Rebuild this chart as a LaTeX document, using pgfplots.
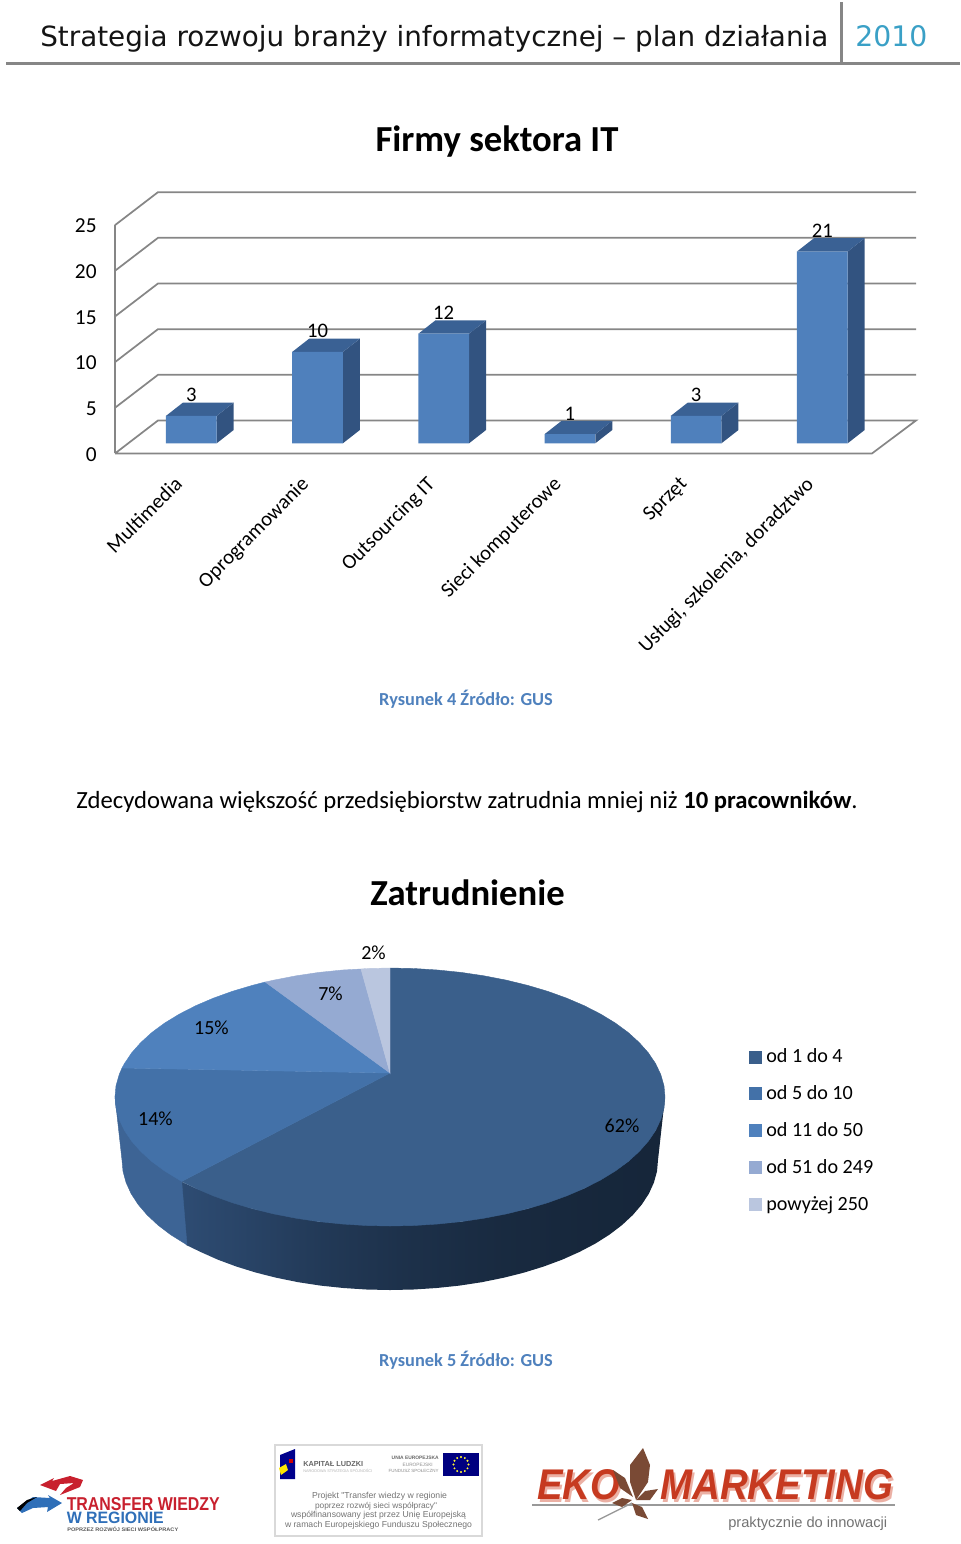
\documentclass[border=0pt]{standalone}
\usepackage{fontspec}
\usepackage{graphicx}
\usepackage{pgfplots}
\usepackage{pgfplotstable}
\pgfplotsset{compat=1.18}
\setmainfont{Carlito}
\newfontfamily\hdr{DejaVu Sans}
\newfontfamily\lib{Liberation Sans}

\newlength\px
\setlength\px{0.75pt}
% text forced to a width read from the page, in pixels
\newcommand\W[2]{\resizebox{#1\px}{!}{#2}}
\newcommand\WH[3]{\resizebox{#1\px}{#2\px}{#3}}

\definecolor{frontc}{HTML}{4F80BC}
\definecolor{topc}{HTML}{3A6194}
\definecolor{sidec}{HTML}{325380}
\definecolor{wallc}{HTML}{868686}
\definecolor{capc}{HTML}{4F81BD}
\definecolor{pa}{HTML}{3A5F8B}
\definecolor{pb}{HTML}{4371A8}
\definecolor{pc}{HTML}{4F81BD}
\definecolor{pd}{HTML}{95AAD2}
\definecolor{pe}{HTML}{BAC6DF}
\definecolor{sidedark}{HTML}{16263A}
\definecolor{sidelight}{HTML}{2F4E76}
\definecolor{sideb}{HTML}{3D6495}
\definecolor{ekored}{HTML}{C63A20}
\definecolor{ekopink}{HTML}{EBB0A4}
\definecolor{leaf}{HTML}{7A4A35}
\definecolor{yearc}{HTML}{3AA0C6}
\definecolor{twred}{HTML}{C8202E}
\definecolor{twblue}{HTML}{2F6FB8}

% wall of the big slice: the box of the path runs from 25bp to 75bp
\pgfdeclarehorizontalshading{sidesh}{100bp}{color(0bp)=(sidelight);
  color(25bp)=(sidelight!95!sidedark); color(33bp)=(sidelight!70!sidedark);
  color(40bp)=(sidelight!47!sidedark); color(48bp)=(sidelight!27!sidedark);
  color(58bp)=(sidelight!10!sidedark); color(68bp)=(sidelight!2!sidedark);
  color(75bp)=(sidedark); color(100bp)=(sidedark)}

\pgfplotstableread{
x v
0 3
1 10
2 12
3 1
4 3
5 21
}\firmy

% side and top face of one 3D bar: column, value
\newcommand\Depth[2]{%
  \pgfmathsetmacro\xa{#1-0.2009}\pgfmathsetmacro\xb{#1+0.2009}%
  \pgfmathsetmacro\xc{#1+0.3356}\pgfmathsetmacro\xd{#1-0.0662}%
  \pgfmathsetmacro\yb{#2+1.457}%
  \addplot[fill=sidec,draw=none] coordinates {(\xb,0)(\xc,1.457)(\xc,\yb)(\xb,#2)} -- cycle;
  \addplot[fill=topc,draw=none] coordinates {(\xa,#2)(\xb,#2)(\xc,\yb)(\xd,\yb)} -- cycle;
}

\begin{document}
\begin{tikzpicture}
\path[use as bounding box] (0,0) rectangle (720pt,1158pt);

% page axis, in pixels of the page
\begin{axis}[
    at={(0,0)}, anchor=south west,
    width=720pt, height=1158pt, scale only axis,
    xmin=0, xmax=960, ymin=0, ymax=1544, y dir=reverse,
    hide axis, clip=false,
    legend style={at={(0.780,0.3226)}, anchor=north west, draw=none, fill=none,
        font=\fontsize{15.1}{18}\selectfont, row sep=11.7pt, inner sep=0pt},
    legend cell align=left,
    legend image code/.code={\fill[#1] (0pt,-4.5pt) rectangle (9pt,4.5pt);\path (10.5pt,0pt);},
]
% legend first, so that its entries take these five images
\addlegendimage{pa}\addlegendentry{od 1 do 4}
\addlegendimage{pb}\addlegendentry{od 5 do 10}
\addlegendimage{pc}\addlegendentry{od 11 do 50}
\addlegendimage{pd}\addlegendentry{od 51 do 249}
\addlegendimage{pe}\addlegendentry{powyżej 250}

% header
\addplot[draw=none,fill=wallc] coordinates {(6,61.5)(960,61.5)(960,65)(6,65)} -- cycle;
\addplot[draw=none,fill=wallc] coordinates {(839.5,2)(843,2)(843,62)(839.5,62)} -- cycle;
\node[anchor=base west,inner sep=0pt,text=black!92] at (axis cs:40,46) {\W{788}{\hdr Strategia rozwoju branży informatycznej – plan działania}};
\node[anchor=base west,inner sep=0pt,text=yearc] at (axis cs:855,46) {\W{72}{\hdr 2010}};

% titles and captions
\node[font=\fontsize{27.5}{30}\bfseries\selectfont] at (axis cs:497,141) {Firmy sektora IT};
\node[font=\fontsize{13.75}{16}\bfseries\selectfont,text=capc] at (axis cs:466,699) {Rysunek 4 Źródło: GUS};
\node[anchor=base west,inner sep=0pt,font=\fontsize{18.5}{22}\selectfont] at (axis cs:76,808) {Zdecydowana większość przedsiębiorstw zatrudnia mniej niż \textbf{10 pracowników}.};
\node[font=\fontsize{27.5}{30}\bfseries\selectfont] at (axis cs:467.5,893) {Zatrudnienie};
\node[font=\fontsize{13.75}{16}\bfseries\selectfont,text=capc] at (axis cs:466,1360) {Rysunek 5 Źródło: GUS};

% pie: side walls, the 62 percent one darker to the right
\addplot[shade,shading=sidesh,draw=none] coordinates {(665,1097)(655.6,1130.4)(628.2,1161.5)(584.5,1188.2)(527.5,1208.7)(461.2,1221.6)(390,1226)(318.8,1221.6)(252.5,1208.7)(195.5,1188.2)(180.7,1181.4)(186,1244.9)(200.5,1251.9)(217.7,1259.6)(236.3,1266.5)(256,1272.6)(276.7,1277.8)(298.3,1282.2)(320.6,1285.6)(343.5,1288)(366.6,1289.5)(390,1290)(413.4,1289.5)(436.5,1288)(459.4,1285.6)(481.7,1282.2)(503.3,1277.8)(524,1272.6)(543.7,1266.5)(562.3,1259.6)(579.5,1251.9)(595.3,1243.6)(609.5,1234.6)(622.1,1225)(632.9,1214.9)(641.8,1204.5)(648.9,1193.6)(653.9,1182.6)(657,1171.3)(658,1160)} -- cycle;
\addplot[fill=sideb,draw=sideb,line width=0.3pt] coordinates {(181.7,1181.4)(115,1097)(122,1160)(123,1171.3)(126.1,1182.6)(131.1,1193.6)(138.2,1204.5)(147.1,1214.9)(157.9,1225)(170.5,1234.6)(187,1244.9)} -- cycle;

% pie: top surface, 62, 14, 15, 7 and 2 percent
\addplot[fill=pa,draw=pa,line width=0.3pt] coordinates {(390,1073)(390,968)(414,968.5)(437.7,970)(461.2,972.4)(484,975.8)(506.2,980.1)(527.5,985.3)(547.7,991.3)(566.8,998.2)(584.5,1005.8)(600.7,1014.1)(615.3,1023)(628.2,1032.5)(639.2,1042.5)(648.4,1052.9)(655.6,1063.6)(660.8,1074.6)(664,1085.8)(665,1097)(664,1108.2)(660.8,1119.4)(655.6,1130.4)(648.4,1141.1)(639.2,1151.5)(628.2,1161.5)(615.3,1171)(600.7,1179.9)(584.5,1188.2)(566.8,1195.8)(547.7,1202.7)(527.5,1208.7)(506.2,1213.9)(484,1218.2)(461.2,1221.6)(437.7,1224)(414,1225.5)(390,1226)(366,1225.5)(342.3,1224)(318.8,1221.6)(296,1218.2)(273.8,1213.9)(252.5,1208.7)(232.3,1202.7)(213.2,1195.8)(195.5,1188.2)(181.7,1181.4)} -- cycle;
\addplot[fill=pb,draw=pb,line width=0.3pt] coordinates {(390,1073)(181.7,1181.4)(179.3,1179.9)(164.7,1171)(151.8,1161.5)(140.8,1151.5)(131.6,1141.1)(124.4,1130.4)(119.2,1119.4)(116,1108.2)(115,1097)(116,1085.8)(119.2,1074.6)(122,1068)} -- cycle;
\addplot[fill=pc,draw=pc,line width=0.3pt] coordinates {(390,1073)(122,1068)(124.4,1063.6)(131.6,1052.9)(140.8,1042.5)(151.8,1032.5)(164.7,1023)(179.3,1014.1)(195.5,1005.8)(213.2,998.2)(232.3,991.3)(252.5,985.3)(265.2,982)} -- cycle;
\addplot[fill=pd,draw=pd,line width=0.3pt] coordinates {(390,1073)(265.2,982)(273.8,980.1)(296,975.8)(318.8,972.4)(342.3,970)(361,969)} -- cycle;
\addplot[fill=pe,draw=pe,line width=0.3pt] coordinates {(390,1073)(361,969)(366,968.5)(390,968)} -- cycle;

\node[font=\fontsize{15}{18}\selectfont] at (axis cs:373.5,953) {2\%};
\node[font=\fontsize{15}{18}\selectfont] at (axis cs:330.5,994) {7\%};
\node[font=\fontsize{15}{18}\selectfont] at (axis cs:211.5,1028) {15\%};
\node[font=\fontsize{15}{18}\selectfont] at (axis cs:155.5,1119) {14\%};
\node[font=\fontsize{15}{18}\selectfont] at (axis cs:622,1126) {62\%};

% logo: Transfer Wiedzy
\addplot[fill=twred,draw=none] coordinates {(40,1485)(54,1478)(52,1481)(70,1476)(83,1480)(80,1487)(60,1495)(66,1488)(74,1483)(60,1484)(56,1491)} -- cycle;
\addplot[fill=twblue,draw=none] coordinates {(17,1508)(33,1497)(50,1498)(48,1495)(62,1503)(47,1512)(48,1507)(33,1508)(22,1513)} -- cycle;
\addplot[fill=black,draw=none] coordinates {(17,1508)(27,1500)(37,1497)(27,1503)(20,1511)} -- cycle;
\node[anchor=base west,inner sep=0pt,text=twred] at (axis cs:66.5,1510) {\WH{153}{13}{\lib\bfseries TRANSFER WIEDZY}};
\node[anchor=base west,inner sep=0pt,text=twblue] at (axis cs:66.5,1523.5) {\WH{97}{11.5}{\lib\bfseries W REGIONIE}};
\node[anchor=base west,inner sep=0pt,text=black!65] at (axis cs:67,1531) {\WH{111}{4.5}{\lib\bfseries POPRZEZ ROZWÓJ SIECI WSPÓŁPRACY}};

% logo: Kapital Ludzki
\addplot[draw=black!15,line width=1.3pt,fill=none] coordinates {(275,1445)(482,1445)(482,1536)(275,1536)} -- cycle;
\addplot[fill=blue!55!black,draw=none] coordinates {(280,1455)(295,1449)(295,1479)(280,1479)} -- cycle;
\addplot[fill=yellow!90!orange,draw=none] coordinates {(279,1468)(286,1464)(288,1470)(281,1475)} -- cycle;
\addplot[fill=red!80!black,draw=none] coordinates {(289,1459)(293,1459)(293,1463)(289,1463)} -- cycle;
\addplot[fill=blue!50!black,draw=none] coordinates {(443,1453)(479,1453)(479,1476)(443,1476)} -- cycle;
\addplot[only marks,mark=*,mark size=0.5pt,color=yellow!80!white] coordinates {(461,1457)(464.8,1458)(467.5,1460.7)(468.5,1464.5)(467.5,1468.3)(464.8,1471)(461,1472)(457.2,1471)(454.5,1468.3)(453.5,1464.5)(454.5,1460.7)(457.2,1458)};
\node[anchor=base west,inner sep=0pt,text=black!60] at (axis cs:303,1466) {\W{60}{\lib\bfseries KAPITAŁ LUDZKI}};
\node[anchor=base west,inner sep=0pt,text=black!30] at (axis cs:303,1472) {\W{69}{\lib NARODOWA STRATEGIA SPÓJNOŚCI}};
\node[anchor=base east,inner sep=0pt,text=black!60] at (axis cs:439,1459) {\W{47}{\lib\bfseries UNIA EUROPEJSKA}};
\node[anchor=base east,inner sep=0pt,text=black!45] at (axis cs:433,1466) {\W{30}{\lib EUROPEJSKI}};
\node[anchor=base east,inner sep=0pt,text=black!45] at (axis cs:439,1472) {\W{50}{\lib FUNDUSZ SPOŁECZNY}};
\node[anchor=base,inner sep=0pt,text=black!55] at (axis cs:379.5,1498) {\W{135}{\lib Projekt "Transfer wiedzy w regionie}};
\node[anchor=base,inner sep=0pt,text=black!55] at (axis cs:376,1508) {\W{122}{\lib poprzez rozwój sieci współpracy"}};
\node[anchor=base,inner sep=0pt,text=black!55] at (axis cs:378.5,1517) {\W{175}{\lib współfinansowany jest przez Unię Europejską}};
\node[anchor=base,inner sep=0pt,text=black!55] at (axis cs:378.5,1527) {\W{187}{\lib w ramach Europejskiego Funduszu Społecznego}};

% logo: Eko Marketing
\addplot[draw=black!40,line width=1pt] coordinates {(532,1505)(895,1505)};
\node[anchor=base west,inner sep=0pt,text=ekopink] at (axis cs:539,1502) {\WH{83}{30}{\lib\bfseries\itshape EKO}};
\node[anchor=base west,inner sep=0pt,text=ekopink] at (axis cs:662,1502) {\WH{233}{30}{\lib\bfseries\itshape MARKETING}};
\node[anchor=base west,inner sep=0pt,text=ekored] at (axis cs:537,1499.5) {\WH{83}{30}{\lib\bfseries\itshape EKO}};
\node[anchor=base west,inner sep=0pt,text=ekored] at (axis cs:660,1499.5) {\WH{233}{30}{\lib\bfseries\itshape MARKETING}};
\addplot[draw=black!40,line width=1pt] coordinates {(598,1520)(632,1503)};
\addplot[fill=leaf,draw=none] coordinates {(643,1448)(650,1465)(648,1482)(636,1500)(630,1482)(630,1465)} -- cycle;
\addplot[fill=leaf,draw=none] coordinates {(613,1470)(625,1478)(633,1497)(620,1488)} -- cycle;
\addplot[fill=leaf,draw=none] coordinates {(658,1489)(650,1500)(636,1500)(645,1491)} -- cycle;
\addplot[fill=leaf,draw=none] coordinates {(612,1503)(622,1498)(632,1500)(622,1507)} -- cycle;
\addplot[fill=leaf,draw=none] coordinates {(632,1503)(642,1507)(648,1519)(636,1515)} -- cycle;
\node[anchor=base west,inner sep=0pt,text=black!55] at (axis cs:728,1527) {\W{159}{\lib praktycznie do innowacji}};
\end{axis}

% bar chart: x in columns, y in the values of the chart
\begin{axis}[
    at={(86.25pt,817.9pt)}, anchor=south west,
    width=600.75pt, height=197.4pt, scale only axis,
    xmin=-0.6046, xmax=5.7425, ymin=-1.11, ymax=27.71,
    axis line style={draw=none}, tick style={draw=none},
    axis x line*=bottom, axis y line*=left,
    clip=false,
    xtick={0,1,2,3,4,5},
    xticklabels={Multimedia,Oprogramowanie,Outsourcing IT,Sieci komputerowe,Sprzęt,{Usługi, szkolenia, doradztwo}},
    xticklabel style={rotate=45,anchor=north east,font=\fontsize{15.5}{18}\selectfont,xshift=-17.66pt,yshift=1.38pt},
    ytick={-1.11,3.89,8.89,13.89,18.89,23.89},
    yticklabels={0,5,10,15,20,25},
    yticklabel style={font=\fontsize{16}{18}\selectfont,xshift=-10.25pt,yshift=-0.75pt},
    /pgf/number format/assume math mode=true,
]
\addplot[wallc,line width=1.3pt] coordinates {(-0.6046,-1.11)(-0.6046,23.89)};
\addplot[wallc,line width=1.3pt] coordinates {(-0.6046,-1.11)(5.394,-1.11)(5.7425,2.5)(-0.2639,2.5)(-0.6046,-1.11)};
\addplot[wallc,line width=1.3pt] coordinates {(-0.6046,3.89)(-0.2639,7.5)(5.7425,7.5)};
\addplot[wallc,line width=1.3pt] coordinates {(-0.6046,8.89)(-0.2639,12.5)(5.7425,12.5)};
\addplot[wallc,line width=1.3pt] coordinates {(-0.6046,13.89)(-0.2639,17.5)(5.7425,17.5)};
\addplot[wallc,line width=1.3pt] coordinates {(-0.6046,18.89)(-0.2639,22.5)(5.7425,22.5)};
\addplot[wallc,line width=1.3pt] coordinates {(-0.6046,23.89)(-0.2639,27.5)(5.7425,27.5)};
\Depth{0}{3}
\Depth{1}{10}
\Depth{2}{12}
\Depth{3}{1}
\Depth{4}{3}
\Depth{5}{21}
\addplot[ybar,bar width=38pt,fill=frontc,draw=none,
    nodes near coords,
    every node near coord/.append style={anchor=center,yshift=15.5pt,text=black,font=\fontsize{15.5}{18}\selectfont}]
    table[x=x,y=v] {\firmy};
\end{axis}
\end{tikzpicture}
\end{document}
